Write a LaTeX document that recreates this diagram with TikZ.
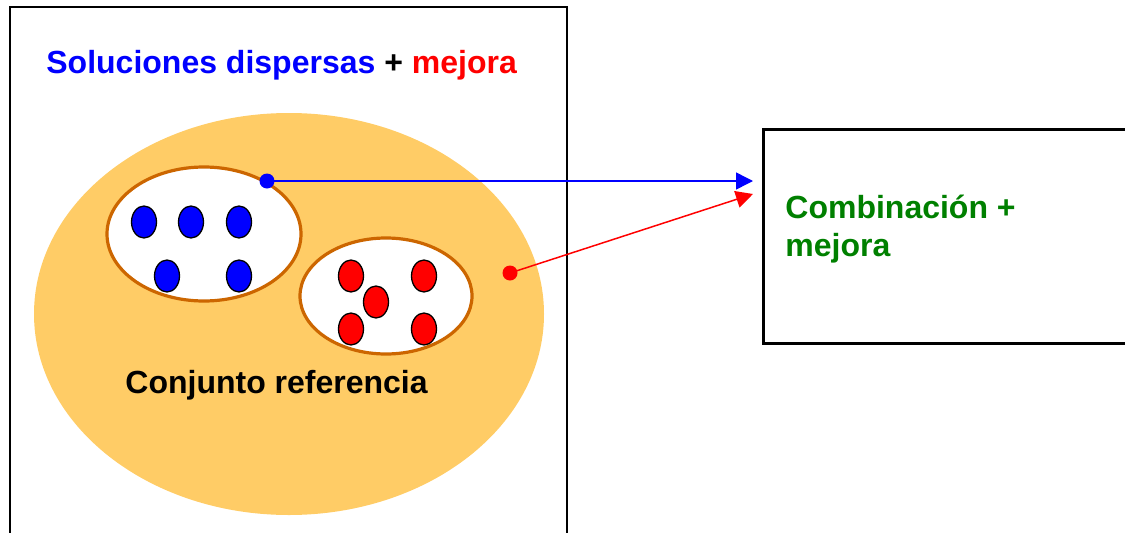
\documentclass[tikz,border=0pt]{standalone}
\usepackage{fontspec}
\setmainfont{Liberation Sans}
\usetikzlibrary{arrows.meta}
\usetikzlibrary{shapes.geometric}
\definecolor{setfill}{RGB}{255,204,102}
\definecolor{setline}{RGB}{204,102,0}
\definecolor{combgreen}{RGB}{0,128,0}
\begin{document}
\begin{tikzpicture}[x=1pt,y=-1pt,line width=2.8pt,sol/.style={ellipse,draw=black,line width=1.3pt,minimum width=25pt,minimum height=32pt,inner sep=0pt},sub/.style={ellipse,draw=setline,fill=white,line width=3.2pt,inner sep=0pt},pt/.style={circle,inner sep=0pt,minimum size=15pt},lbl/.style={inner sep=0pt,font=\bfseries\fontsize{32}{37}\selectfont}]
\useasboundingbox (0,0) rectangle (1125,533);
\clip (0,0) rectangle (1125,533);
\draw (10,7) rectangle (567,560);
\node (comb) at (762,128) [draw,anchor=north west,minimum width=400pt,minimum height=214pt] {};
\node (ref) at (289,314) [ellipse,fill=setfill,minimum width=510pt,minimum height=402pt] {};
\node (disp) at (204,234) [sub,minimum width=194pt,minimum height=134pt] {};
\node (mej) at (386,296) [sub,minimum width=172pt,minimum height=116pt] {};
\foreach \x/\y [count=\i] in {144/222,191/222,239/222,167/276,239/276} {
\node (b\i) at (\x,\y) [sol,fill=blue] {};
}
\foreach \x/\y [count=\i] in {351/276,424/276,376/302,351/329,424/329} {
\node (r\i) at (\x,\y) [sol,fill=red] {};
}
\node (tit) at (45,73) [lbl,anchor=base west] {\textcolor{blue}{Soluciones dispersas} + \textcolor{red}{mejora}};
\node (conj) at (124,393) [lbl,anchor=base west] {Conjunto referencia};
\node (txt) at (784,218) [lbl,anchor=base west,text=combgreen] {Combinación +};
\node (txt2) at (784,256) [lbl,anchor=base west,text=combgreen] {mejora};
\node (bp) at (267,181) [pt,fill=blue] {};
\node (rp) at (510,273) [pt,fill=red] {};
\coordinate (bt) at (753,181);
\coordinate (rt) at (753,194);
\draw[blue,line width=1.5pt,-{Triangle[length=17pt,width=17pt]}] (bp.center) -- (bt);
\draw[red,line width=1.5pt,-{Triangle[length=17pt,width=17pt]}] (rp.center) -- (rt);
\end{tikzpicture}
\end{document}
